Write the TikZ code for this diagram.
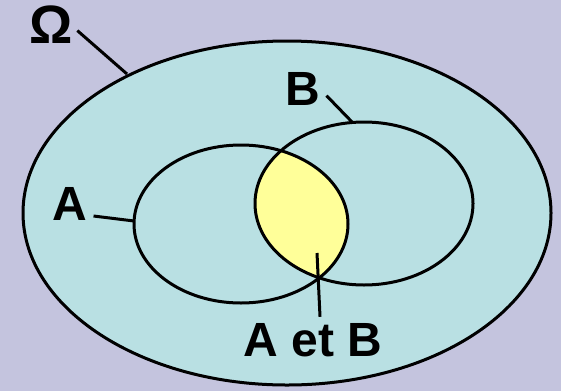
\documentclass[tikz,border=0pt]{standalone}
\usepackage{fontspec}
\setmainfont{Liberation Sans}
\usepackage{xcolor}
\usepackage{tikz}
\usetikzlibrary{positioning}
\definecolor{bgviolet}{RGB}{196,196,222}
\definecolor{setteal}{RGB}{185,224,227}
\definecolor{lensyellow}{RGB}{255,255,153}
\tikzset{
  universe/.style={draw=black, line width=3pt, fill=setteal},
  setline/.style={draw=black, line width=3pt},
  lens/.style={fill=lensyellow},
  lbl/.style={inner sep=6pt, anchor=base, font=\fontsize{48}{50}\selectfont\bfseries},
  tick/.style={line width=3pt},
}
\begin{document}
\begin{tikzpicture}[x=1pt, y=-1pt]
\fill[bgviolet] (0,0) rectangle (561,391);
\useasboundingbox (0,0) rectangle (561,391);
\path[universe] (287,213) ellipse [x radius=264, y radius=172];
\begin{scope}
  \clip (241,224) ellipse [x radius=107, y radius=79];
  \fill[lens] (364,203.5) ellipse [x radius=109, y radius=81.5];
\end{scope}
\path[setline] (241,224) ellipse [x radius=107, y radius=79];
\path[setline] (364,203.5) ellipse [x radius=109, y radius=81.5];
\coordinate (pO) at (127,74);
\coordinate (pA) at (134,221);
\coordinate (pB) at (353,123);
\coordinate (pAB) at (317,253);
\node[lbl, font=\fontsize{54}{56}\selectfont\bfseries, inner sep=4pt] (lblO) at (51.5,43) {Ω};
\node[lbl] (lblA) at (70,220) {A};
\node[lbl] (lblB) at (303,105) {B};
\node[lbl] (lblAB) at (313,356) {A et B};
\draw[tick] (lblO.-14) -- (pO);
\draw[tick] (lblA.-28) -- (pA);
\draw[tick] (lblB.-17) -- (pB);
\draw[tick] (lblAB.73) -- (pAB);
\end{tikzpicture}
\end{document}
